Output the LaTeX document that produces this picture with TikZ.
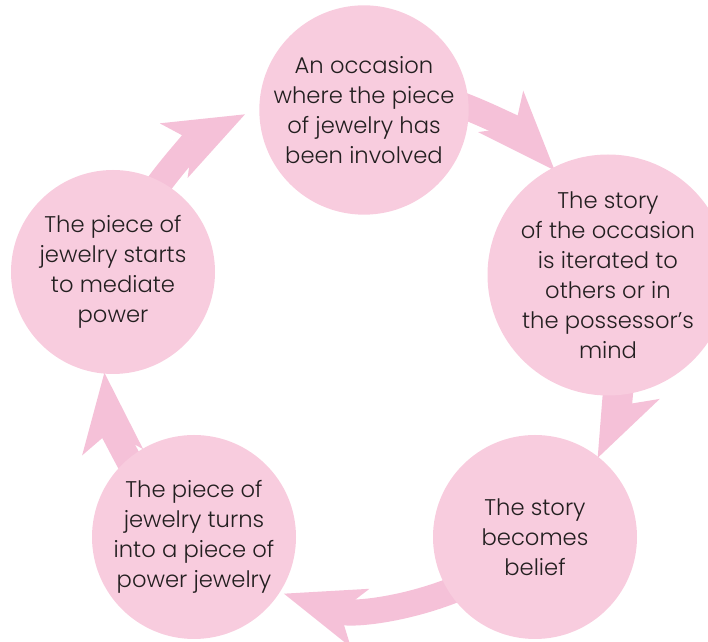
\documentclass[tikz,border=0pt]{standalone}
\usepackage{fontspec}
\setmainfont{Poppins}[UprightFont=* Light]
\usetikzlibrary{arrows.meta}
\usepackage{xcolor}
\definecolor{petal}{HTML}{F8CCDE}
\definecolor{ribbon}{HTML}{F5C1D8}
\definecolor{ink}{HTML}{231F20}
\tikzstyle{stage}=[circle,fill=petal,minimum size=153pt,inner sep=0,align=center,text=ink,font=\fontsize{17}{22.5}\selectfont]
\tikzstyle{flow}=[draw=ribbon,line width=19.5pt,-{Stealth[length=60pt,width=46pt,inset=16pt,line width=0pt]}]

\begin{document}
\begin{tikzpicture}[x=0.75pt,y=0.75pt]
    \useasboundingbox (0,0) rectangle (708,642);
    \coordinate (hub) at (363,296);

    % arrows first, circles go on top
    \draw[flow] ([shift={(75:260)}]hub) arc[start angle=75,end angle=42.5,radius=260];
    \draw[flow] ([shift={(0:260)}]hub) arc[start angle=0,end angle=-25.5,radius=260];
    \draw[flow] ([shift={(-60:260)}]hub) arc[start angle=-60,end angle=-107.7,radius=260];
    \draw[flow] ([shift={(215:260)}]hub) arc[start angle=215,end angle=185.9,radius=260];
    \draw[flow] ([shift={(150:260)}]hub) arc[start angle=150,end angle=117,radius=260];

    \node[stage] (occasion) at (364,532) {An occasion\\where the piece\\of jewelry has\\been involved};
    \node[stage,minimum size=150pt] (story) at (608,367) {The story\\of the occasion\\is iterated to\\others or in\\the possessor’s\\mind};
    \node[stage] (belief) at (535,105) {The story\\becomes\\belief};
    \node[stage] (turns) at (194,105) {The piece of\\jewelry turns\\into a piece of\\power jewelry};
    \node[stage] (mediate) at (113,370) {The piece of\\jewelry starts\\to mediate\\power};

\end{tikzpicture}
\end{document}
